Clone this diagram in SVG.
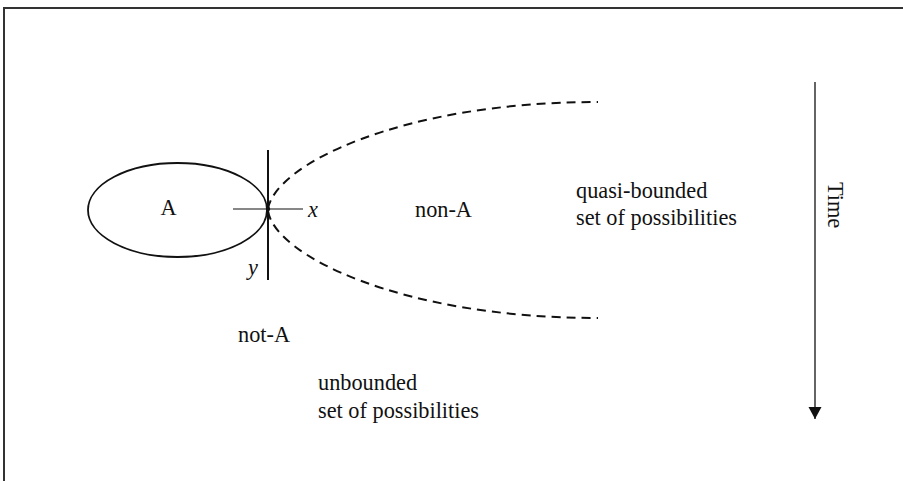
<svg xmlns="http://www.w3.org/2000/svg" width="903" height="481" viewBox="0 0 903 481">
<style>
  text { font-family: "Liberation Serif", "Times New Roman", serif; font-size: 22.3px; fill: #111; }
  .it { font-style: italic; }
  .frame { fill: none; stroke: #333; stroke-width: 2; }
  .solid { fill: none; stroke: #111; }
  .dash { fill: none; stroke: #111; stroke-width: 2; stroke-dasharray: 9 6; }
</style>
<defs>
  <marker id="arrow" markerWidth="14" markerHeight="14" refX="12" refY="6.5" orient="auto" markerUnits="userSpaceOnUse">
    <path d="M0,0 L12,6.5 L0,13 Z" fill="#111"/>
  </marker>
</defs>
<rect width="903" height="481" fill="#fff"/>
<path class="frame" d="M4,481 L4,8 L903,8"/>

<g id="nodeA">
  <ellipse class="solid" cx="177.5" cy="210" rx="89.5" ry="47" stroke-width="1.8"/>
  <text x="168.5" y="215" text-anchor="middle">A</text>
</g>

<g id="axes">
  <line class="solid" x1="268" y1="150" x2="268" y2="280" stroke-width="2"/>
  <line class="solid" x1="233" y1="209" x2="303" y2="209" stroke-width="1.2"/>
  <circle cx="268" cy="209" r="2.2" fill="#111"/>
  <text class="it" x="308" y="217">x</text>
  <text class="it" x="248" y="275">y</text>
</g>

<g id="connectors">
  <path class="dash" d="M268,209 C275,165 400,102 598,102"/>
  <path class="dash" d="M268,211 C275,255 400,318 598,318"/>
  <line class="solid" x1="815" y1="82" x2="815" y2="419" stroke-width="1.3" marker-end="url(#arrow)"/>
</g>

<g id="labels">
  <text x="415" y="217">non-A</text>
  <text x="576" y="198">quasi-bounded</text>
  <text x="576" y="225">set of possibilities</text>
  <text x="238" y="342">not-A</text>
  <text x="318" y="390">unbounded</text>
  <text x="318" y="418">set of possibilities</text>
  <text transform="translate(828,182) rotate(90)">Time</text>
</g>
</svg>
